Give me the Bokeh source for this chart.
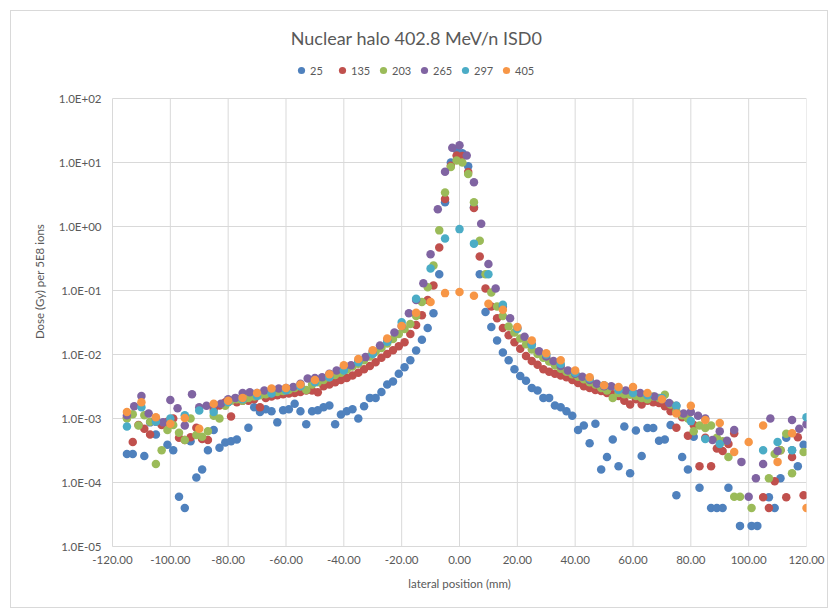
from bokeh.plotting import figure
from bokeh.models import (Range1d, FixedTicker, NumeralTickFormatter, CustomJSTickFormatter,
                          Label, Legend, LegendItem)
from bokeh.embed import file_html
from bokeh.resources import INLINE
import numpy as np

# ---------------- data (lateral position in mm, dose in Gy per 5E8 ions) ----------------
series_names = ["25", "135", "203", "265", "297", "405"]
series_colors = ["#4F81BD", "#C0504D", "#9BBB59", "#8064A2", "#4BACC6", "#F79646"]

pos_25 = [-115, -113, -109, -107, -105, -101, -99, -97, -95, -93,
          -91, -89, -87, -85, -83, -81, -79, -77, -73, -71,
          -69, -67, -65, -63, -61, -59, -57, -55, -53, -51,
          -49, -47, -45, -43, -41, -39, -37, -35, -33, -31,
          -29, -27, -25, -23, -21, -19, -17, -15, -13, -11,
          -9, -7, -5, -3, -1, 1, 3, 5, 7, 9,
          11, 13, 15, 17, 19, 21, 23, 25, 27, 29,
          31, 33, 35, 37, 39, 41, 43, 45, 47, 49,
          51, 53, 55, 57, 59, 61, 63, 65, 67, 69,
          71, 73, 75, 77, 79, 81, 83, 87, 89, 91,
          93, 97, 101, 103, 107, 109, 111, 113, 115, 117,
          119]
dose_25 = [2.8e-4, 2.8e-4, 2.6e-4, 8.7e-4, 5.6e-4, 3.9e-4, 3.2e-4, 6.0e-5, 4.0e-5, 4.4e-4,
           1.2e-4, 1.6e-4, 3.2e-4, 6.6e-4, 3.5e-4, 4.2e-4, 4.4e-4, 4.7e-4, 7.2e-4, 1.5e-3,
           1.26e-3, 1.4e-3, 1.3e-3, 8.7e-4, 1.35e-3, 1.4e-3, 1.7e-3, 1.3e-3, 8.1e-4, 1.3e-3,
           1.35e-3, 1.5e-3, 1.6e-3, 8.1e-4, 1.15e-3, 1.3e-3, 1.4e-3, 1.0e-3, 1.55e-3, 2.1e-3,
           2.1e-3, 2.6e-3, 3.4e-3, 3.8e-3, 5.0e-3, 6.3e-3, 8.1e-3, 1.15e-2, 1.7e-2, 2.6e-2,
           4.4e-2, 0.18, 2.4, 10.0, 16.0, 14.0, 8.7, 2.0, 0.18, 4.6e-2,
           2.7e-2, 1.66e-2, 1.07e-2, 8.1e-3, 5.9e-3, 4.6e-3, 3.9e-3, 3.0e-3, 2.75e-3, 2.1e-3,
           2.1e-3, 1.6e-3, 1.5e-3, 1.3e-3, 1.1e-3, 6.6e-4, 7.8e-4, 4.1e-4, 8.3e-4, 1.6e-4,
           2.5e-4, 4.7e-4, 1.8e-4, 7.5e-4, 1.4e-4, 6.5e-4, 2.6e-4, 7.1e-4, 7.1e-4, 4.5e-4,
           4.7e-4, 7.9e-4, 6.3e-5, 2.5e-4, 1.6e-4, 5.2e-4, 8.3e-5, 4.0e-5, 4.0e-5, 4.0e-5,
           8.3e-5, 2.1e-5, 2.1e-5, 2.1e-5, 5.9e-5, 4.0e-5, 1.17e-4, 5.0e-4, 3.2e-4, 1.8e-4,
           3.9e-4]

# 2 mm grid (odd positions) used by series 135 and 203
pos_2mm = [-115, -113, -111, -109, -107, -105, -103, -101, -99, -97,
           -95, -93, -91, -89, -87, -85, -83, -81, -79, -77,
           -75, -73, -71, -69, -67, -65, -63, -61, -59, -57,
           -55, -53, -51, -49, -47, -45, -43, -41, -39, -37,
           -35, -33, -31, -29, -27, -25, -23, -21, -19, -17,
           -15, -13, -11, -9, -7, -5, -3, -1, 1, 3,
           5, 7, 9, 11, 13, 15, 17, 19, 21, 23,
           25, 27, 29, 31, 33, 35, 37, 39, 41, 43,
           45, 47, 49, 51, 53, 55, 57, 59, 61, 63,
           65, 67, 69, 71, 73, 75, 77, 79, 81, 83,
           85, 87, 89, 91, 93, 95, 97, 99, 101, 103,
           105, 107, 109, 111, 113, 115, 117, 119]
dose_135 = [1.05e-3, 4.3e-4, 7.9e-4, 6.9e-4, 5.6e-4, 8.9e-4, 7.9e-4, 8.9e-4, 1.0e-3, 5.0e-4,
            4.6e-4, 5.1e-4, 7.2e-4, 4.8e-4, 4.6e-4, 1.4e-3, 1.6e-3, 1.8e-3, 1.07e-3, 1.8e-3,
            1.9e-3, 1.9e-3, 2.0e-3, 1.5e-3, 2.1e-3, 2.2e-3, 2.3e-3, 2.4e-3, 2.45e-3, 2.5e-3,
            2.6e-3, 2.75e-3, 2.75e-3, 2.57e-3, 3.2e-3, 3.4e-3, 3.7e-3, 4.0e-3, 4.3e-3, 4.7e-3,
            5.2e-3, 5.9e-3, 6.6e-3, 7.6e-3, 8.9e-3, 1.02e-2, 1.17e-2, 1.35e-2, 1.55e-2, 2.1e-2,
            2.9e-2, 4.1e-2, 7.1e-2, 0.12, 0.47, 2.7, 8.9, 12.9, 12.6, 7.1,
            1.95, 0.34, 0.107, 5.6e-2, 3.7e-2, 2.6e-2, 2.0e-2, 1.55e-2, 1.23e-2, 9.5e-3,
            7.9e-3, 6.9e-3, 5.9e-3, 5.4e-3, 5.0e-3, 4.7e-3, 4.4e-3, 4.0e-3, 3.6e-3, 3.2e-3,
            3.0e-3, 2.8e-3, 2.7e-3, 2.5e-3, 2.4e-3, 2.24e-3, 1.9e-3, 1.66e-3, 2.0e-3, 1.66e-3,
            1.9e-3, 1.8e-3, 1.74e-3, 1.55e-3, 1.3e-3, 7.2e-4, 1.05e-3, 5.4e-4, 7.9e-4, 1.8e-4,
            5.0e-4, 1.8e-4, 3.4e-4, 3.1e-4, 4.0e-4, 5.9e-4, None, None, None, None,
            5.9e-5, 4.0e-5, 1.05e-4, 3.2e-4, 5.9e-5, 2.5e-4, 5.1e-4, 6.3e-5]
dose_203 = [1.0e-3, 1.17e-3, 7.8e-4, 1.12e-3, 8.9e-4, 1.95e-4, 3.2e-4, 6.6e-4, 7.9e-4, 6.0e-4,
            4.6e-4, 1.0e-3, 5.5e-4, 5.2e-4, 6.3e-4, 1.1e-3, 1.0e-3, 1.58e-3, 1.9e-3, 2.0e-3,
            1.9e-3, 2.1e-3, 2.2e-3, 2.3e-3, 2.4e-3, 2.5e-3, 2.6e-3, 2.7e-3, 2.8e-3, 3.0e-3,
            3.2e-3, 2.8e-3, 3.4e-3, 3.7e-3, 4.0e-3, 4.4e-3, 4.8e-3, 5.2e-3, 5.8e-3, 6.5e-3,
            7.2e-3, 8.1e-3, 9.3e-3, 1.1e-2, 1.26e-2, 1.48e-2, 1.74e-2, 2.1e-2, 2.5e-2, 3.0e-2,
            4.0e-2, 6.6e-2, 0.112, 0.245, 0.87, 3.4, 8.5, 10.7, 10.0, 6.6,
            2.4, 0.6, 0.18, 9.3e-2, 5.6e-2, 4.0e-2, 2.75e-2, 2.2e-2, 1.78e-2, 1.45e-2,
            1.2e-2, 1.02e-2, 8.9e-3, 7.8e-3, 6.8e-3, 6.0e-3, 5.4e-3, 4.9e-3, 4.5e-3, 4.1e-3,
            3.7e-3, 3.4e-3, 3.0e-3, 2.75e-3, 2.1e-3, 2.5e-3, 2.4e-3, 2.35e-3, 2.24e-3, 2.1e-3,
            2.0e-3, 2.2e-3, 2.1e-3, 2.35e-3, 1.66e-3, 1.3e-3, 1.12e-3, 1.0e-3, 6.3e-4, 7.8e-4,
            7.1e-4, 7.8e-4, 5.0e-4, 4.4e-4, 2.5e-4, 6.0e-5, 6.0e-5, None, 4.0e-5, None,
            None, 1.17e-4, 2.8e-4, 3.2e-4, 5.8e-4, 1.4e-4, None, 3.0e-4]

# 2.5 mm grid used by series 265
pos_2p5mm = [-115, -112.5, -110, -107.5, -105, -102.5, -100, -97.5, -95, -92.5,
             -90, -87.5, -85, -82.5, -80, -77.5, -75, -72.5, -70, -67.5,
             -65, -62.5, -60, -57.5, -55, -52.5, -50, -47.5, -45, -42.5,
             -40, -37.5, -35, -32.5, -30, -27.5, -25, -22.5, -20, -17.5,
             -15, -12.5, -10, -7.5, -5, -2.5, 0, 2.5, 5, 7.5,
             10, 12.5, 15, 17.5, 20, 22.5, 25, 27.5, 30, 32.5,
             35, 37.5, 40, 42.5, 45, 47.5, 50, 52.5, 55, 57.5,
             60, 62.5, 65, 67.5, 70, 72.5, 75, 77.5, 80, 82.5,
             85, 87.5, 90, 92.5, 95, 97.5, 100, 102.5, 105, 107.5,
             110, 112.5, 115, 117.5, 120]
dose_265 = [1.12e-3, 1.55e-3, 2.24e-3, 1.2e-3, 1.0e-3, 8.7e-4, 1.95e-3, 1.45e-3, 7.8e-4, 2.4e-3,
            1.5e-3, 1.58e-3, 1.62e-3, 1.7e-3, 2.0e-3, 2.1e-3, 2.5e-3, 2.57e-3, 2.5e-3, 2.75e-3,
            2.8e-3, 2.95e-3, 3.0e-3, 3.1e-3, 3.5e-3, 4.2e-3, 4.3e-3, 4.4e-3, 5.0e-3, 5.6e-3,
            6.2e-3, 6.8e-3, 7.9e-3, 9.1e-3, 1.12e-2, 1.38e-2, 1.66e-2, 2.2e-2, 2.8e-2, 4.4e-2,
            7.1e-2, 0.13, 0.37, 1.86, 7.2, 17.0, 18.6, 12.9, 4.9, 1.1,
            0.26, 0.107, 5.6e-2, 3.7e-2, 2.6e-2, 1.9e-2, 1.45e-2, 1.12e-2, 9.3e-3, 7.9e-3,
            6.6e-3, 5.6e-3, 5.0e-3, 4.5e-3, 4.0e-3, 3.5e-3, 3.2e-3, 3.2e-3, 2.95e-3, 2.75e-3,
            2.6e-3, 2.5e-3, 2.35e-3, 2.2e-3, 2.0e-3, 1.74e-3, 1.58e-3, 1.2e-3, 1.26e-3, 1.1e-3,
            1.0e-3, 4.6e-4, 6.3e-4, 4.5e-4, 6.6e-4, 2.1e-4, 6.0e-5, 1.17e-4, 1.95e-4, 1.0e-3,
            3.1e-4, None, 9.5e-4, 6.9e-4, 8.1e-4]

# 5 mm grid used by series 297 and 405
pos_5mm = [-115, -110, -105, -100, -95, -90, -85, -80, -75, -70,
           -65, -60, -55, -50, -45, -40, -35, -30, -25, -20,
           -15, -10, -5, 0, 5, 10, 15, 20, 25, 30,
           35, 40, 45, 50, 55, 60, 65, 70, 75, 80,
           85, 90, 95, 100, 105, 110, 115, 120]
dose_297 = [7.5e-4, 1.5e-3, 8.9e-4, 1.0e-3, 1.12e-3, 1.33e-3, 1.26e-3, 1.8e-3, 2.0e-3, 2.24e-3,
            2.45e-3, 2.75e-3, 3.2e-3, 3.7e-3, 4.4e-3, 5.6e-3, 7.6e-3, 1.02e-2, 1.58e-2, 3.2e-2,
            7.4e-2, 0.22, 0.65, 0.91, 0.54, 0.18, 6.0e-2, 2.5e-2, 1.41e-2, 1.0e-2,
            7.1e-3, 5.2e-3, 4.2e-3, 3.3e-3, 2.8e-3, 2.5e-3, 2.3e-3, 2.1e-3, 1.58e-3, 9.1e-4,
            4.8e-4, 4.0e-4, None, None, 3.2e-4, 4.3e-4, 3.2e-4, 1.05e-3]
dose_405 = [1.26e-3, 1.8e-3, 1.05e-3, 8.3e-4, 1.02e-3, 6.9e-4, 1.7e-3, 1.9e-3, 2.1e-3, 2.5e-3,
            2.95e-3, 3.0e-3, 3.4e-3, 4.0e-3, 4.9e-3, 6.8e-3, 8.5e-3, 1.17e-2, 1.78e-2, 2.8e-2,
            4.5e-2, 6.6e-2, 9.1e-2, 9.5e-2, 8.3e-2, 6.2e-2, 5.0e-2, 2.7e-2, 1.66e-2, 1.05e-2,
            8.1e-3, 5.6e-3, 4.4e-3, 3.3e-3, 3.1e-3, 3.1e-3, 2.5e-3, 2.0e-3, 1.2e-3, 1.58e-3,
            9.5e-4, 8.5e-4, 3.0e-4, 4.3e-4, 7.8e-4, 2.1e-4, 5.9e-4, 4.0e-5]

x_ticks = [-120, -100, -80, -60, -40, -20, 0, 20, 40, 60, 80, 100, 120]
y_ticks = [1e-5, 1e-4, 1e-3, 1e-2, 1e-1, 1e0, 1e1, 1e2]
title_text = "Nuclear halo 402.8 MeV/n ISD0"
x_label = "lateral position (mm)"
y_label = "Dose (Gy) per 5E8 ions"

series = [(pos_25, dose_25), (pos_2mm, dose_135), (pos_2mm, dose_203),
          (pos_2p5mm, dose_265), (pos_5mm, dose_297), (pos_5mm, dose_405)]
for (xs, ys) in series:
    assert len(xs) == len(ys), (len(xs), len(ys))

# ---------------- layout / styling ----------------
FONT = "Lato"
TXT = "#595959"
GRID = "#d9d9d9"

PAGE_W, PAGE_H = 832, 613
M_TOP, M_RIGHT, M_BOTTOM, M_LEFT = 11, 5, 6, 11   # space outside the chart-area border

X_MIN, X_MAX = x_ticks[0], x_ticks[-1]
Y_MIN, Y_MAX = y_ticks[0], y_ticks[-1]
DECADE_PX = 64.0          # pixels per decade in the plot area
FRAME_LEFT, FRAME_RIGHT = 112, 806   # page pixels
FRAME_TOP = 16            # frame extends over the title/legend zone
AXIS_TOP = 98             # where 1.0E+02 sits on the page
FRAME_BOTTOM = 546
y_top = 10 ** (np.log10(Y_MAX) + (AXIS_TOP - FRAME_TOP) / DECADE_PX)

def page_y_to_data(py):
    return 10 ** (np.log10(Y_MIN) + (FRAME_BOTTOM - py) / DECADE_PX)

def page_x_to_data(px):
    return X_MIN + (px - FRAME_LEFT) * (X_MAX - X_MIN) / (FRAME_RIGHT - FRAME_LEFT)

fig_w = PAGE_W - M_LEFT - M_RIGHT
fig_h = PAGE_H - M_TOP - M_BOTTOM
p = figure(width=fig_w, height=fig_h, output_backend="svg", toolbar_location=None,
           x_range=Range1d(X_MIN, X_MAX), y_range=Range1d(Y_MIN, y_top), y_axis_type="log",
           min_border_left=FRAME_LEFT - M_LEFT,
           min_border_right=(PAGE_W - M_RIGHT) - FRAME_RIGHT,
           min_border_top=FRAME_TOP - M_TOP,
           min_border_bottom=(PAGE_H - M_BOTTOM) - FRAME_BOTTOM)
p.margin = (M_TOP, M_RIGHT, M_BOTTOM, M_LEFT)
p.title_location = None
p.outline_line_color = None
p.background_fill_color = "white"
p.border_fill_color = "white"
p.xgrid.grid_line_color = None
p.ygrid.grid_line_color = None
# faint chart-area border, drawn just outside the figure box
p.styles = {"outline": "1px solid #d9d9d9"}

# gridlines limited to the plotted data window
p.segment(x0=x_ticks, y0=[Y_MIN] * len(x_ticks), x1=x_ticks, y1=[Y_MAX] * len(x_ticks),
          line_color=GRID, line_width=1)
p.segment(x0=[X_MIN] * len(y_ticks), y0=y_ticks, x1=[X_MAX] * len(y_ticks), y1=y_ticks,
          line_color=GRID, line_width=1)

p.xaxis.ticker = FixedTicker(ticks=x_ticks, minor_ticks=[])
p.yaxis.ticker = FixedTicker(ticks=y_ticks, minor_ticks=[])
p.yaxis.bounds = (Y_MIN, Y_MAX)
p.xaxis.formatter = NumeralTickFormatter(format="0.00")
p.yaxis.formatter = CustomJSTickFormatter(code="""
const e = Math.round(Math.log10(tick));
const a = Math.abs(e);
return "1.0E" + (e < 0 ? "-" : "+") + (a < 10 ? "0" : "") + a;
""")
for ax in (p.xaxis, p.yaxis):
    ax.axis_line_color = GRID
    ax.major_tick_line_color = None
    ax.minor_tick_line_color = None
    ax.major_tick_out = 0
    ax.major_tick_in = 0
    ax.major_label_text_font = FONT
    ax.major_label_text_font_size = "11.5px"
    ax.major_label_text_color = TXT
    ax.axis_label_text_font = FONT
    ax.axis_label_text_font_size = "11.5px"
    ax.axis_label_text_color = TXT
    ax.axis_label_text_font_style = "normal"
p.xaxis.major_label_standoff = 9
p.yaxis.major_label_standoff = 11
p.xaxis.axis_label = x_label
p.yaxis.axis_label = y_label
p.xaxis.axis_label_standoff = 10
p.yaxis.axis_label_standoff = 10

renderers = []
for (xs, ys), c in zip(series, series_colors):
    r = p.scatter(x=np.array(xs, dtype=float), y=np.array(ys, dtype=float),
                  size=8.5, fill_color=c, line_color=None)
    renderers.append(r)

LEG_H = 18
legend = Legend(items=[LegendItem(label=n, renderers=[r]) for n, r in zip(series_names, renderers)],
                orientation="horizontal",
                glyph_width=18, glyph_height=18, label_standoff=0, spacing=3,
                padding=0, margin=0, border_line_color=None, background_fill_alpha=0,
                label_text_font=FONT, label_text_font_size="11px", label_text_color=TXT,
                label_height=LEG_H)
legend.location = (292 - FRAME_LEFT, FRAME_BOTTOM - 70 - LEG_H / 2)
p.add_layout(legend)

p.add_layout(Label(x=page_x_to_data(416), y=page_y_to_data(37), text=title_text,
                   text_align="center", text_baseline="middle", text_font=FONT,
                   text_font_size="18px", text_color=TXT))

open("out.html", "w").write(file_html(p, INLINE))
